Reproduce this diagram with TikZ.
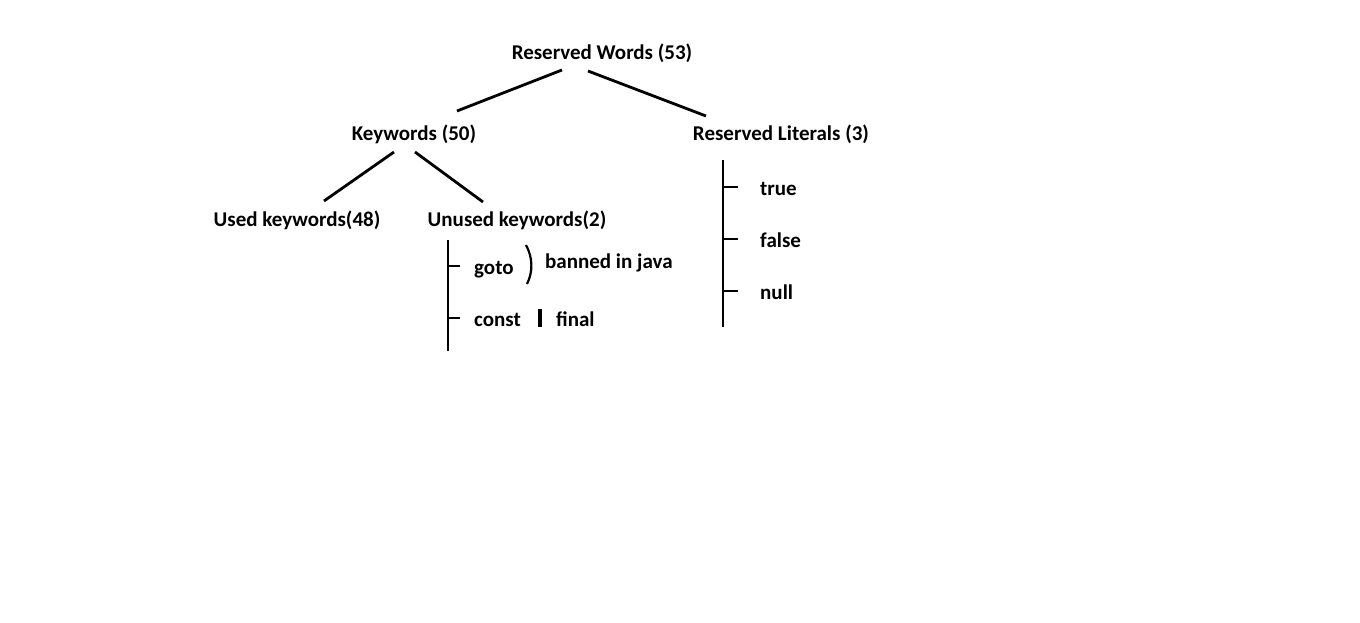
\documentclass[tikz,border=0pt]{standalone}
\usepackage{fontspec}
\setmainfont{Carlito}
\begin{document}
\begin{tikzpicture}[x=1pt,y=-1pt,
  lbl/.style={font=\fontsize{21}{23}\selectfont\bfseries, inner sep=0pt, text=black, anchor=base},
  lw/.style={lbl, anchor=base west},
  ln/.style={line width=2.8pt, black}]
\useasboundingbox[fill=white] (0,0) rectangle (1360,623);
% nodes
\node[lbl] (rw) at (602,60) {Reserved Words (53)};
\node[lbl] (kw) at (414,141) {Keywords (50)};
\node[lbl] (rl) at (781,141) {Reserved Literals (3)};
\node[lbl] (uk) at (297,226) {Used keywords(48)};
\node[lbl] (un) at (517,226) {Unused keywords(2)};
\node[lw] (goto) at (474,274) {goto};
\node[lw] (ban) at (545,268) {banned in java};
\node[lw] (const) at (474,326) {const};
\node[lw] (final) at (556,326) {final};
\node[lw] (true) at (760,195) {true};
\node[lw] (false) at (760,247) {false};
\node[lw] (null) at (760,299) {null};
% connector end points
\coordinate (rwA) at (562,70);  \coordinate (kwA) at (457,111);
\coordinate (rwB) at (588,71);  \coordinate (rlA) at (706,116);
\coordinate (kwB) at (394,152); \coordinate (ukA) at (324,201);
\coordinate (kwC) at (415,152); \coordinate (unA) at (483,202);
\draw[ln] (rwA) -- (kwA);
\draw[ln] (rwB) -- (rlA);
\draw[ln] (kwB) -- (ukA);
\draw[ln] (kwC) -- (unA);
% unused keywords list
\draw[ln] (448,240) -- (448,351);
\draw[ln] (448,266) -- (460,266);
\draw[ln] (448,318) -- (460,318);
\draw[line width=2.2pt] (526,245) .. controls (533,258) and (533,272) .. (527,284);
\draw[line width=3.2pt] (540,309) -- (540,327);
% reserved literals list
\draw[ln] (723,160) -- (723,327);
\draw[ln] (723,187) -- (738,187);
\draw[ln] (723,239) -- (738,239);
\draw[ln] (723,291) -- (738,291);
\end{tikzpicture}
\end{document}
